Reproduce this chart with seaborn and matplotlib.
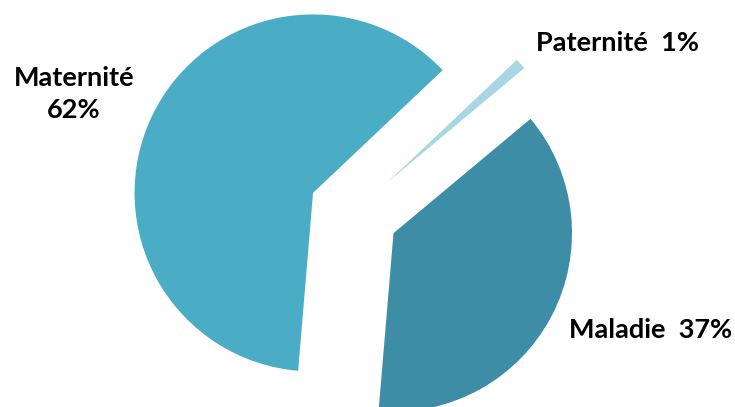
import matplotlib
matplotlib.use("Agg")
import matplotlib.pyplot as plt
import seaborn as sns

# Values (labels show rounded percentages)
categories = ["Maternité", "Paternité", "Maladie"]
shares = [61.6, 1.0, 37.4]
label_text = ["Maternité\n62%", "Paternité  1%", "Maladie  37%"]
colors = ["#4BACC6", "#A9D6E3", "#3D8DA6"]

sns.set_theme(style="white")
plt.rcParams["font.family"] = ["Lato", "DejaVu Sans"]

fig = plt.figure(figsize=(7.35, 4.07), dpi=100)
ax = fig.add_axes([0, 0, 1, 1])

ax.pie(shares, colors=colors, startangle=265.2, counterclock=False,
       explode=[0.252, 0.252, 0.252], radius=1.0,
       wedgeprops=dict(linewidth=0))

# keep the pie 178.5 px per unit, centre at (353.6, 212.4) px from top-left
scale = 178.5
cx, cy = 353.6, 212.4
ax.set_xlim(-cx / scale, (735 - cx) / scale)
ax.set_ylim(-(407 - cy) / scale, cy / scale)
ax.set_aspect("auto")
ax.axis("off")

# label positions in pixels (centre), converted to figure fractions
label_pos = [(74, 94), (617, 43), (651, 330)]
for txt, (px, py) in zip(label_text, label_pos):
    fig.text(px / 735, 1 - py / 407, txt, ha="center", va="center",
             fontsize=19.5, fontweight="bold", color="black",
             linespacing=1.45)

fig.savefig("out.png", dpi=100)
